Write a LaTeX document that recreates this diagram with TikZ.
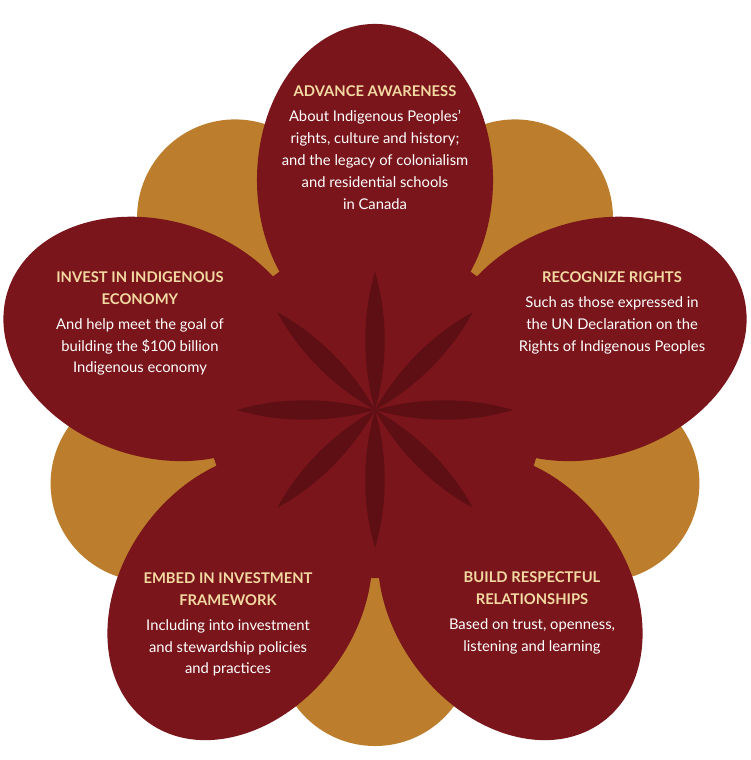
\documentclass[tikz,border=0pt]{standalone}
\usepackage{fontspec}
\setmainfont{Lato}
\usetikzlibrary{positioning}
\definecolor{petalred}{HTML}{7A151B}
\definecolor{petalgold}{HTML}{BC7E2C}
\definecolor{leafdark}{HTML}{5A0E13}
\definecolor{headcream}{HTML}{F3D9A2}

\begin{document}
\begin{tikzpicture}[
    x=0.025cm, y=0.025cm,
    heading/.style={text=headcream, font=\fontsize{10.5}{15.5}\selectfont\bfseries, align=center},
    body/.style={text=white, font=\fontsize{10.5}{15.5}\selectfont, align=center},
    leaf/.style={fill=leafdark, opacity=0.85}
]
\useasboundingbox (0,0) rectangle (750,760);

% Gold petals behind
\foreach \a in {54,126,198,270,342}
    \fill[petalgold, shift={(375,350)}, rotate=\a] (238,0) circle [radius=2.45cm];

% Red petals
\fill[petalred] (375,350) circle [radius=4.2cm];
\foreach \a in {90,162,234,306,18}
    \fill[petalred, shift={(375,350)}, rotate=\a] (230,0) ellipse [x radius=3.9cm, y radius=2.95cm];

% Centre star
\foreach \a in {0,45,...,315}
    \fill[leaf, shift={(375,350)}, rotate=\a] (0,0) .. controls (45,13) and (95,13) .. (138,0) .. controls (95,-13) and (45,-13) .. (0,0);

% Top petal
\node[heading] (awareHead) at (375,669) {ADVANCE AWARENESS};
\node[body, below=3pt of awareHead] (awareText) {About Indigenous Peoples’\\rights, culture and history;\\and the legacy of colonialism\\and residential schools\\in Canada};

% Left petal
\node[heading] (investHead) at (140,472) {INVEST IN INDIGENOUS\\ECONOMY};
\node[body, below=3pt of investHead] (investText) {And help meet the goal of\\building the \$100 billion\\Indigenous economy};

% Right petal
\node[heading] (rightsHead) at (612,483) {RECOGNIZE RIGHTS};
\node[body, below=3pt of rightsHead] (rightsText) {Such as those expressed in\\the UN Declaration on the\\Rights of Indigenous Peoples};

% Bottom-left petal
\node[heading] (embedHead) at (228,171) {EMBED IN INVESTMENT\\FRAMEWORK};
\node[body, below=3pt of embedHead] (embedText) {Including into investment\\and stewardship policies\\and practices};

% Bottom-right petal
\node[heading] (buildHead) at (532,172) {BUILD RESPECTFUL\\RELATIONSHIPS};
\node[body, below=3pt of buildHead] (buildText) {Based on trust, openness,\\listening and learning};
\end{tikzpicture}
\end{document}
